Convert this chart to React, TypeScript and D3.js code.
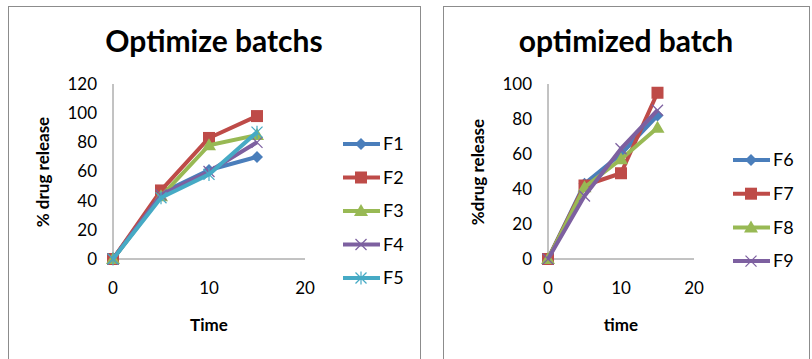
import React from 'react'
import * as d3 from 'd3'

const times = [0, 5, 10, 15]

const leftSeries = ['F1', 'F2', 'F3', 'F4', 'F5']
const leftValues = [
  [0, 45, 61, 70],
  [0, 47, 83, 98],
  [0, 43, 78, 85],
  [0, 44, 60, 80],
  [0, 42, 58, 87]
]
const leftYTicks = [0, 20, 40, 60, 80, 100, 120]

const rightSeries = ['F6', 'F7', 'F8', 'F9']
const rightValues = [
  [0, 43, 60, 82],
  [0, 42, 49, 95],
  [0, 41, 57, 75],
  [0, 36, 63, 85]
]
const rightYTicks = [0, 20, 40, 60, 80, 100]

const xTicks = [0, 10, 20]

const colors = ['#4A7EBB', '#BE4B48', '#98B954', '#7D60A0', '#46AAC5']
const markers = ['diamond', 'square', 'triangle', 'x', 'star']
const rightMarkers = ['diamond', 'square', 'triangle', 'x']

const font = 'Lato, "Open Sans", sans-serif'

const Marker = ({ kind, x, y, color }) => {
  if (kind === 'diamond') {
    const r = 6
    return <path d={`M${x},${y - r}L${x + r},${y}L${x},${y + r}L${x - r},${y}Z`} fill={color} />
  }
  if (kind === 'square') {
    return <rect x={x - 6} y={y - 6} width={12} height={12} fill={color} />
  }
  if (kind === 'triangle') {
    return <path d={`M${x},${y - 7}L${x + 7},${y + 5}L${x - 7},${y + 5}Z`} fill={color} />
  }
  const r = 5.5
  return (
    <g stroke={color} strokeWidth={1.2}>
      <line x1={x - r} y1={y - r} x2={x + r} y2={y + r} />
      <line x1={x - r} y1={y + r} x2={x + r} y2={y - r} />
      {kind === 'star' && <line x1={x} y1={y - r - 1} x2={x} y2={y + r + 1} />}
    </g>
  )
}

const Panel = ({ box, title, yLabel, xLabel, plot, yMax, yTicks, names, values, marks, legend }) => {
  const xScale = d3.scaleLinear().domain([0, 20]).range([plot.x0, plot.x1])
  const yScale = d3.scaleLinear().domain([0, yMax]).range([plot.y0, plot.y1])
  const line = d3.line<number>().x((d, i) => xScale(times[i])).y(d => yScale(d))
  return (
    <g>
      <rect x={box.x} y={box.y} width={box.w} height={box.h} fill='#fff' stroke='#8c8c8c' strokeWidth={1} />
      <text x={box.titleX} y={52} textAnchor='middle' fontFamily={font} fontWeight='bold' fontSize={30}>{title}</text>
      <line x1={plot.x0} y1={plot.y1} x2={plot.x0} y2={plot.y0} stroke='#868686' />
      <line x1={plot.x0} y1={plot.y0} x2={plot.x1} y2={plot.y0} stroke='#868686' />
      {yTicks.map(t => (
        <text key={t} x={plot.x0 - 16} y={yScale(t)} dy='0.35em' textAnchor='end' fontFamily={font} fontSize={17}>{t}</text>
      ))}
      {xTicks.map(t => (
        <text key={t} x={xScale(t)} y={plot.y0 + 35} textAnchor='middle' fontFamily={font} fontSize={17}>{t}</text>
      ))}
      <text transform={`translate(${box.yLabelX},172) rotate(-90)`} dy='0.35em' textAnchor='middle' fontFamily={font} fontWeight='bold' fontSize={17}>{yLabel}</text>
      <text x={xScale(10)} y={331} textAnchor='middle' fontFamily={font} fontWeight='bold' fontSize={17}>{xLabel}</text>
      {values.map((vals, i) => (
        <g key={names[i]}>
          <path d={line(vals)} fill='none' stroke={colors[i]} strokeWidth={4} strokeLinejoin='round' />
          {vals.map((v, j) => (
            <Marker key={j} kind={marks[i]} x={xScale(times[j])} y={yScale(v)} color={colors[i]} />
          ))}
        </g>
      ))}
      {names.map((n, i) => {
        const y = legend.y + i * legend.step
        return (
          <g key={n}>
            <line x1={legend.x} y1={y} x2={legend.x + 37} y2={y} stroke={colors[i]} strokeWidth={4} />
            <Marker kind={marks[i]} x={legend.x + 18} y={y} color={colors[i]} />
            <text x={legend.x + 40} y={y} dy='0.35em' fontFamily={font} fontSize={18}>{n}</text>
          </g>
        )
      })}
    </g>
  )
}

export default function App () {
  return (
    <svg width={812} height={359} style={{ position: 'absolute', left: 0, top: 0, background: '#fff' }}>
      <Panel
        box={{ x: 8.5, y: 6.5, w: 412, h: 360, titleX: 214, yLabelX: 43 }}
        title='Optimize batchs'
        yLabel='% drug release'
        xLabel='Time'
        plot={{ x0: 113, x1: 305, y0: 259, y1: 84 }}
        yMax={120}
        yTicks={leftYTicks}
        names={leftSeries}
        values={leftValues}
        marks={markers}
        legend={{ x: 343, y: 144, step: 33.5 }}
      />
      <Panel
        box={{ x: 443.5, y: 6.5, w: 366, h: 360, titleX: 626, yLabelX: 478 }}
        title='optimized batch'
        yLabel='%drug release'
        xLabel='time'
        plot={{ x0: 548, x1: 694, y0: 259, y1: 84 }}
        yMax={100}
        yTicks={rightYTicks}
        names={rightSeries}
        values={rightValues}
        marks={rightMarkers}
        legend={{ x: 733, y: 160, step: 33.7 }}
      />
    </svg>
  )
}
